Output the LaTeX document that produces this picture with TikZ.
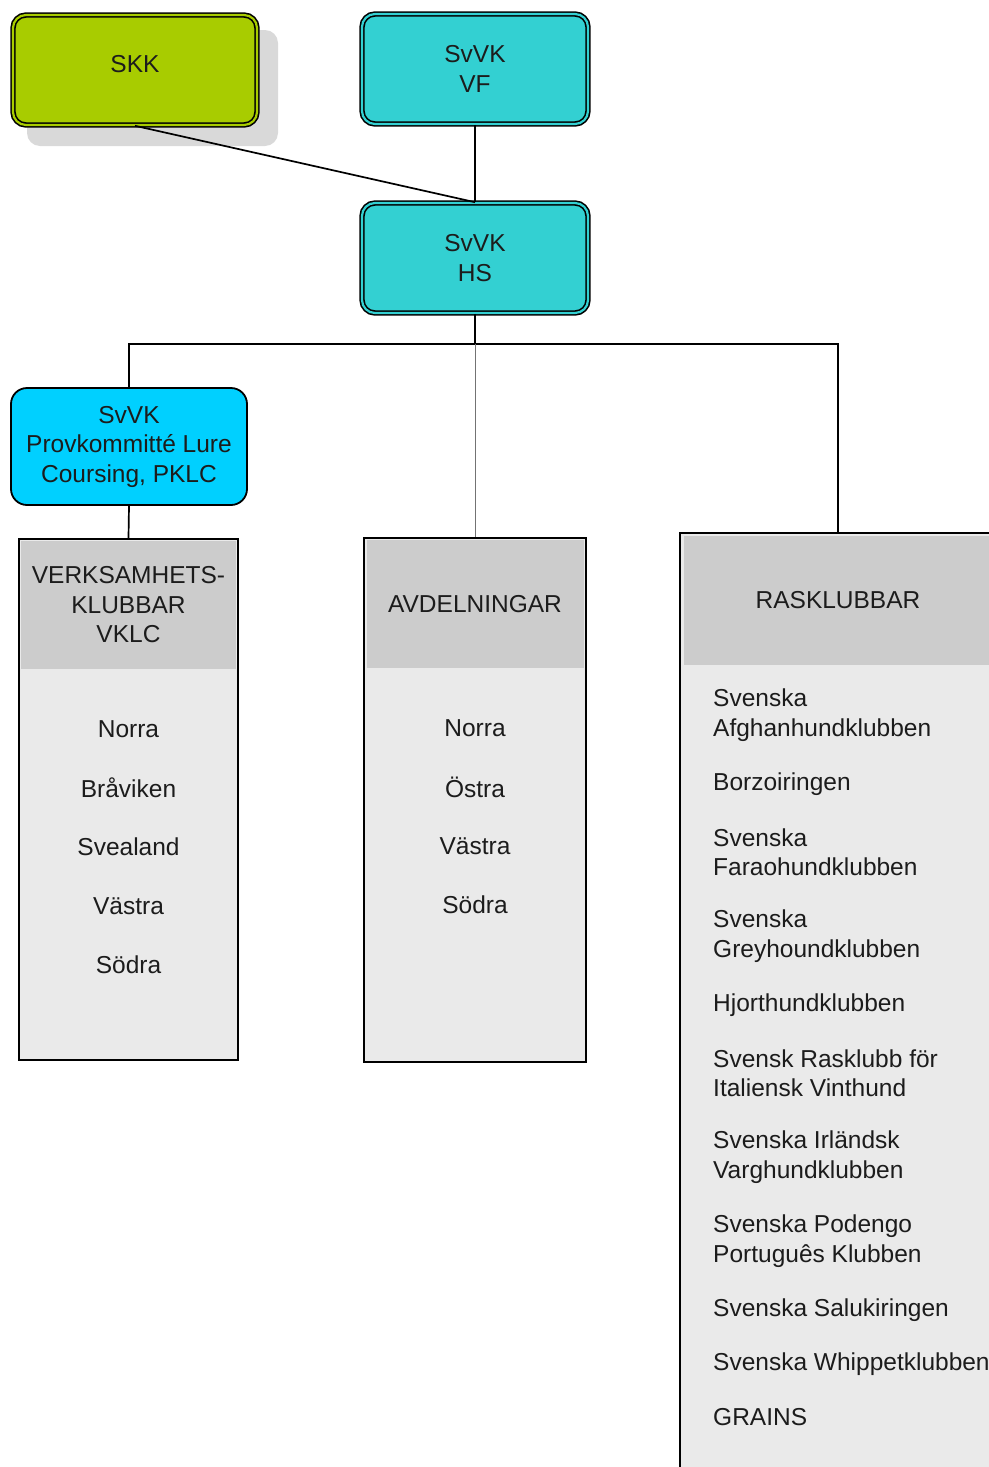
\documentclass[tikz,border=0pt]{standalone}
\usepackage{fontspec}
\setmainfont{Liberation Sans}
\definecolor{skkgreen}{RGB}{168,204,0}
\definecolor{svteal}{RGB}{51,208,210}
\definecolor{pkblue}{RGB}{0,208,255}
\definecolor{hdrgray}{RGB}{204,204,204}
\definecolor{bodygray}{RGB}{234,234,234}
\definecolor{shadowgray}{RGB}{217,217,217}
\definecolor{txt}{RGB}{28,28,28}
\tikzset{
  base/.style={font=\fontsize{24.5}{29.5}\selectfont, text=txt, align=center, inner sep=0pt},
  dbox/.style={base, draw=black, line width=1.6pt, double distance=2.2pt, rounded corners=13pt},
  pbox/.style={base, draw=black, line width=1.8pt, fill=pkblue, rounded corners=16pt},
  cont/.style={draw=black, line width=2.2pt, fill=bodygray, inner sep=0pt},
  hdr/.style={base, fill=hdrgray},
  item/.style={base},
  ritem/.style={base, anchor=west, align=left},
  conn/.style={draw=black, line width=1.7pt},
  thinconn/.style={draw=black!55, line width=0.9pt}
}
\begin{document}
\begin{tikzpicture}[x=1pt,y=-1pt]
\useasboundingbox (0,0) rectangle (988,1467);
% shadow of SKK
\fill[shadowgray, rounded corners=13pt] (27,30) rectangle (278,146);
% top boxes
\node[dbox, double=skkgreen, fill=skkgreen, minimum width=244pt, minimum height=110pt, text height=17.5pt, text depth=12pt] (skk) at (135,70) {SKK};
\node[dbox, double=svteal, fill=svteal, minimum width=226pt, minimum height=110pt] (vf) at (475,69) {SvVK\\VF};
\node[dbox, double=svteal, fill=svteal, minimum width=226pt, minimum height=110pt] (hs) at (475,258) {SvVK\\HS};
% PKLC
\node[pbox, minimum width=236pt, minimum height=117pt] (pk) at (129,446.5) {SvVK\\Provkommitté Lure\\Coursing, PKLC};
% containers
\node[cont, minimum width=219pt, minimum height=521pt] (vk) at (128.5,799.5) {};
\node[hdr, minimum width=215pt, minimum height=128pt] (vkh) at (128.5,605) {VERKSAMHETS-\\KLUBBAR\\VKLC};
\node[cont, minimum width=222pt, minimum height=524pt] (av) at (475,800) {};
\node[hdr, minimum width=217pt, minimum height=128pt] (avh) at (475,604) {AVDELNINGAR};
\node[cont, minimum width=316pt, minimum height=960pt] (ras) at (838,1013) {};
\node[hdr, minimum width=308pt, minimum height=129pt] (rash) at (838,600.5) {RASKLUBBAR};
% VKLC items
\node[item] (vk1) at (128.5,729) {Norra};
\node[item] (vk2) at (128.5,788) {Bråviken};
\node[item] (vk3) at (128.5,847) {Svealand};
\node[item] (vk4) at (128.5,906) {Västra};
\node[item] (vk5) at (128.5,965) {Södra};
% AVDELNINGAR items
\node[item] (av1) at (475,728) {Norra};
\node[item] (av2) at (475,787) {Östra};
\node[item] (av3) at (475,846) {Västra};
\node[item] (av4) at (475,905) {Södra};
% RASKLUBBAR items
\node[ritem] (r1) at (713,715) {Svenska\\Afghanhundklubben};
\node[ritem] (r2) at (713,784) {Borzoiringen};
\node[ritem] (r3) at (713,852) {Svenska\\Faraohundklubben};
\node[ritem] (r4) at (713,936) {Svenska\\Greyhoundklubben};
\node[ritem] (r5) at (713,1005) {Hjorthundklubben};
\node[ritem] (r6) at (713,1073) {Svensk Rasklubb för\\Italiensk Vinthund};
\node[ritem] (r7) at (713,1157) {Svenska Irländsk\\Varghundklubben};
\node[ritem] (r8) at (713,1241) {Svenska Podengo\\Português Klubben};
\node[ritem] (r9) at (713,1310) {Svenska Salukiringen};
\node[ritem] (r10) at (713,1364) {Svenska Whippetklubben};
\node[ritem] (r11) at (713,1417) {GRAINS};
% connectors
\coordinate (bus) at (475,344);
\draw[conn] (skk.south) -- (hs.north);
\draw[conn] (vf.south) -- (hs.north);
\draw[conn] (hs.south) -- (bus);
\draw[conn] (bus) -| (pk.north);
\draw[conn] (bus) -| (ras.north);
\draw[thinconn] (bus) -- (av.north);
\draw[conn] (pk.south) -- (vk.north);
\end{tikzpicture}
\end{document}
